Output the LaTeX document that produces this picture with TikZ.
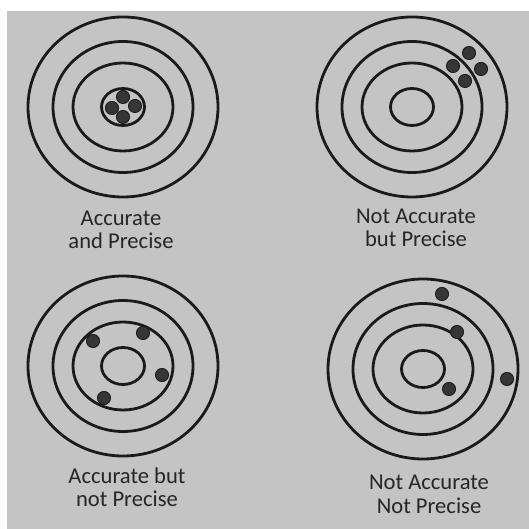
\documentclass[tikz,border=0pt]{standalone}
\usepackage{fontspec}
\setmainfont{Carlito}
\usetikzlibrary{positioning}
\definecolor{clrpaper}{HTML}{C4C4C4}
\definecolor{clrring}{HTML}{1A1A1A}
\definecolor{clrshot}{HTML}{363636}
\definecolor{clrtext}{HTML}{262626}

\begin{document}
\begin{tikzpicture}[
    x=0.5pt, y=0.5pt,
    ring/.style={draw=clrring, line width=1.4pt},
    shot/.style={circle, fill=clrshot, draw=clrring, line width=0.4pt,
                 minimum size=6.6pt, inner sep=0pt},
    caption/.style={font=\fontsize{11.3}{11.6}\selectfont, text=clrtext,
                    align=center, inner sep=0pt, anchor=base},
]
\useasboundingbox (0,0) rectangle (529,529);
\fill[white] (0,0) rectangle (529,529);
\fill[clrpaper] (7,0) rectangle (529,518);
% target centres
\coordinate (c_tl) at (123,422);
\coordinate (c_tr) at (412,422);
\coordinate (c_bl) at (123,163);
\coordinate (c_br) at (423,160);
\foreach \tgt in {tl, tr, bl, br}
    \foreach \rx/\ry in {47.5/45, 35/32.75, 25/22, 10.75/9.25}
        \draw[ring] (c_\tgt) ellipse [x radius=\rx pt, y radius=\ry pt];
% accurate and precise
\node[shot] (s_tl_1) at (123,432) {};
\node[shot] (s_tl_2) at (135,423) {};
\node[shot] (s_tl_3) at (112,421) {};
\node[shot] (s_tl_4) at (123,412) {};
% not accurate but precise
\node[shot] (s_tr_1) at (469,476) {};
\node[shot] (s_tr_2) at (453,463) {};
\node[shot] (s_tr_3) at (481,460) {};
\node[shot] (s_tr_4) at (465,448) {};
% accurate but not precise
\node[shot] (s_bl_1) at (93,188) {};
\node[shot] (s_bl_2) at (143,196) {};
\node[shot] (s_bl_3) at (162,154) {};
\node[shot] (s_bl_4) at (104,131) {};
% not accurate not precise
\node[shot] (s_br_1) at (442,235) {};
\node[shot] (s_br_2) at (457,197) {};
\node[shot] (s_br_3) at (507,150) {};
\node[shot] (s_br_4) at (449,140) {};
% captions (base = last line)
\node[caption] (cap_tl) at (121,280) {Accurate\\and Precise};
\node[caption] (cap_tr) at (416,282) {Not Accurate\\but Precise};
\node[caption] (cap_bl) at (127,22) {Accurate but\\not Precise};
\node[caption] (cap_br) at (429,16) {Not Accurate\\Not Precise};
\end{tikzpicture}
\end{document}
